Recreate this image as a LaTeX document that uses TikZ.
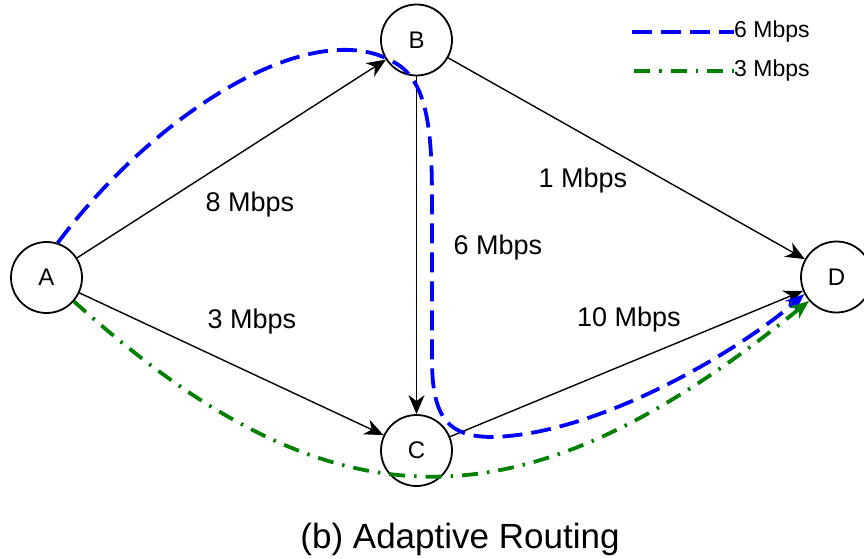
\documentclass[tikz,border=0pt]{standalone}
\usepackage{fontspec}
\setmainfont{Liberation Sans}
\usepackage{tikz}
\usetikzlibrary{arrows.meta, positioning}

\begin{document}
\begin{tikzpicture}[x=1pt,y=1pt]

		\tikzstyle{place}=[circle,draw=black,line width=1.8pt,minimum size=71pt,inner sep=0pt,
			font=\fontsize{24}{28}\selectfont]
		\tikzstyle{post}=[-{Stealth[length=19pt,width=16pt,inset=6pt]},line width=1.4pt]
		\tikzstyle{rate}=[font=\fontsize{27}{32}\selectfont,inner sep=0pt]
		\tikzstyle{key}=[font=\fontsize{23}{27}\selectfont,inner sep=0pt,anchor=west]
		\tikzstyle{sixm}=[draw=blue,line width=3.8pt,dash pattern=on 20pt off 9pt]
		\tikzstyle{threem}=[draw=green!50!black,line width=3.8pt,
			dash pattern=on 16pt off 9pt on 2.5pt off 9pt]
		\tikzstyle{tip}=[-{Stealth[length=19pt,width=15pt]}]

		\useasboundingbox (0,0) rectangle (864,558);

		\node [place] (A) at (46.5,280.5) {A};
		\node [place] (B) at (416.5,518) {B};
		\node [place] (C) at (416.5,107.5) {C};
		\node [place] (D) at (836.5,281) {D};

		\draw [post] (A) -- (B);
		\draw [post] (A) -- (C);
		\draw [post] (B) -- (C);
		\draw [post] (B) -- (D);
		\draw [post] (C) -- (D);

		\node [rate] (rAB) at (250,353) {8 Mbps};
		\node [rate] (rAC) at (252,236) {3 Mbps};
		\node [rate] (rBC) at (498,310) {6 Mbps};
		\node [rate] (rBD) at (583,377) {1 Mbps};
		\node [rate] (rCD) at (629,238) {10 Mbps};

		% routes
		\draw [sixm,tip] (A.72) .. controls (156,447) and (319,549) .. (400,492)
			.. controls (432,469) and (432,408) .. (432,345) -- (432,198)
			.. controls (432,138) and (450,121) .. (493,121)
			.. controls (600,124) and (740,208) .. (D.208);
		\draw [threem,tip] (A.-41) .. controls (332,24) and (522,24) .. (D.221);

		% legend
		\coordinate (k6) at (632,526);
		\coordinate (k3) at (634,487);
		\node [key] (k6t) at (734,526) {6 Mbps};
		\node [key] (k3t) at (734,487) {3 Mbps};
		\draw [sixm] (k6) -- (k6t.west);
		\draw [threem] (k3) -- (k3t.west);

		\node [font=\fontsize{35}{40}\selectfont,inner sep=0pt] (title) at (460,19) {(b) Adaptive Routing};
	\end{tikzpicture}
\end{document}
